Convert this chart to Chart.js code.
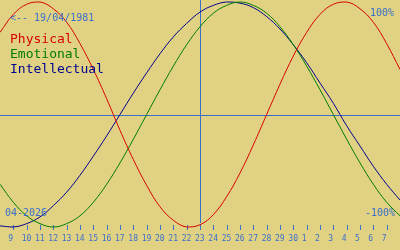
<!DOCTYPE html>
<html>
<head>
<meta charset="utf-8">
<script src="https://cdn.jsdelivr.net/npm/chart.js@4/dist/chart.umd.min.js"></script>
<style>
  html, body { margin: 0; padding: 0; background: #e0d282; }
  canvas { display: block; }
</style>
</head>
<body>
<canvas id="bioChart" width="400" height="250"></canvas>
<script>
// days shown: 8 April .. 8 May (2026)
const days = ['8','9','10','11','12','13','14','15','16','17','18','19','20','21','22','23',
  '24','25','26','27','28','29','30','1','2','3','4','5','6','7','8'];
const todayIndex = 15;   // 23/04
const physical = [0.73, 0.89, 0.98, 1.00, 0.94, 0.82, 0.63, 0.40, 0.14, -0.14, -0.40, -0.63, -0.82, -0.94, -1.00, -0.98,
  -0.89, -0.73, -0.52, -0.27, 0.00, 0.27, 0.52, 0.73, 0.89, 0.98, 1.00, 0.94, 0.82, 0.63, 0.40];
const emotional = [-0.62, -0.78, -0.90, -0.97, -1.00, -0.97, -0.90, -0.78, -0.62, -0.43, -0.22, 0.00, 0.22, 0.43, 0.62, 0.78,
  0.90, 0.97, 1.00, 0.97, 0.90, 0.78, 0.62, 0.43, 0.22, 0.00, -0.22, -0.43, -0.62, -0.78, -0.90];
const intellectual = [-0.99, -1.00, -0.97, -0.91, -0.81, -0.69, -0.54, -0.37, -0.19, 0.00, 0.19, 0.37, 0.54, 0.69, 0.81, 0.91,
  0.97, 1.00, 0.99, 0.95, 0.87, 0.76, 0.62, 0.46, 0.28, 0.10, -0.10, -0.28, -0.46, -0.62, -0.76];
const seriesNames = ['Physical', 'Emotional', 'Intellectual'];
const birthLabel = '<-- 19/04/1981';
const monthLabel = '04-2026';
const topLabel = '100%';
const bottomLabel = '-100%';

const RED = '#d80000', GREEN = '#007c00', NAVY = '#000090', BLUE = '#3a6fcc';

// guide lines, ticks and texts
const bioDecor = {
  id: 'bioDecor',
  beforeDatasetsDraw(chart) {
    const ctx = chart.ctx, x = chart.scales.x, y = chart.scales.y;
    ctx.save();
    ctx.strokeStyle = BLUE;
    ctx.lineWidth = 1;
    const y0 = Math.round(y.getPixelForValue(0)) + 0.5;
    ctx.beginPath();
    ctx.moveTo(0, y0); ctx.lineTo(400, y0);
    const xt = Math.round(x.getPixelForValue(todayIndex)) + 0.5;
    ctx.moveTo(xt, 0); ctx.lineTo(xt, 223);
    ctx.stroke();
    // day ticks
    ctx.beginPath();
    for (let i = 1; i < days.length - 1; i++) {
      const px = Math.round(x.getPixelForValue(i)) + 0.5;
      ctx.moveTo(px, 225); ctx.lineTo(px, 230);
    }
    ctx.stroke();
    ctx.fillStyle = BLUE;
    ctx.font = '8px "DejaVu Sans Mono"';
    ctx.textAlign = 'left';
    ctx.textBaseline = 'alphabetic';
    for (let i = 1; i < days.length - 1; i++) {
      ctx.fillText(days[i], x.getPixelForValue(i) - 5, 241);
    }
    ctx.restore();
  },
  afterDatasetsDraw(chart) {
    const ctx = chart.ctx;
    ctx.save();
    ctx.textBaseline = 'alphabetic';
    ctx.font = '10px "DejaVu Sans Mono"';
    ctx.fillStyle = BLUE;
    ctx.textAlign = 'left';
    ctx.fillText(birthLabel, 10, 21);
    ctx.fillText(monthLabel, 5, 216);
    ctx.textAlign = 'right';
    ctx.fillText(topLabel, 394, 16);
    ctx.fillText(bottomLabel, 395, 216);
    ctx.textAlign = 'left';
    ctx.font = '13px "DejaVu Sans Mono"';
    [RED, GREEN, NAVY].forEach((c, k) => {
      ctx.fillStyle = c;
      ctx.fillText(seriesNames[k], 10, 43 + k * 15);
    });
    ctx.restore();
  }
};

const line = (label, data, color) => ({
  label, data,
  borderColor: color,
  borderWidth: 1,
  pointRadius: 0,
  fill: false,
  tension: 0.4,
  clip: false
});

new Chart('bioChart', {
  type: 'line',
  data: {
    labels: days,
    datasets: [
      line(seriesNames[0], physical, RED),
      line(seriesNames[1], emotional, GREEN),
      line(seriesNames[2], intellectual, NAVY)
    ]
  },
  options: {
    responsive: false,
    animation: false,
    devicePixelRatio: 1,
    layout: { padding: { top: 2, bottom: 23, left: 0, right: 0 } },
    plugins: { legend: { display: false }, tooltip: { enabled: false } },
    scales: {
      x: { display: false, offset: false },
      y: { display: false, min: -1, max: 1 }
    }
  },
  plugins: [bioDecor]
});
</script>
</body>
</html>
